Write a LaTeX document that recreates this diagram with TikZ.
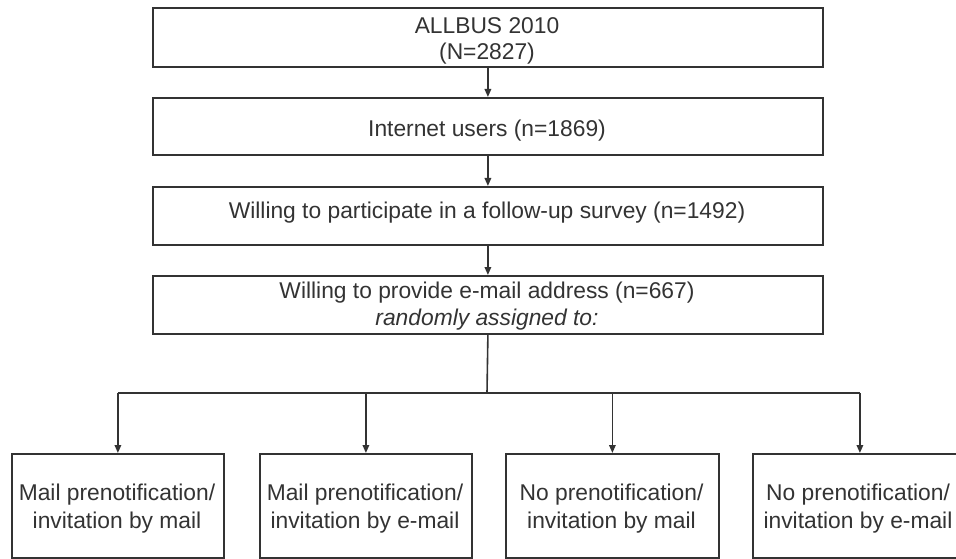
\documentclass[tikz,border=0pt]{standalone}
\usepackage{fontspec}
\setmainfont{Liberation Sans}
\usetikzlibrary{arrows.meta}
\definecolor{ink}{HTML}{333333}
\begin{document}
\begin{tikzpicture}[x=1pt,y=-1pt,
  box/.style={draw=ink, line width=1.8pt, inner sep=0pt, anchor=north west},
  lbl/.style={anchor=base, inner sep=0pt, text=ink, font=\fontsize{22.8}{27}\selectfont},
  conn/.style={draw=ink, line width=1.6pt},
  arr/.style={conn, -{Triangle[length=8pt,width=6.5pt]}}]
\useasboundingbox (0,0) rectangle (956,559);
\clip (0,0) rectangle (956,559);
\fill[white] (0,0) rectangle (956,559);
% top boxes
\node[box, minimum width=670pt, minimum height=59pt] (b1) at (152,7) {};
\node[box, minimum width=670pt, minimum height=57pt] (b2) at (152,97) {};
\node[box, minimum width=670pt, minimum height=58pt] (b3) at (152,186) {};
\node[box, minimum width=670pt, minimum height=58pt] (b4) at (152,275) {};
% bottom boxes
\node[box, minimum width=212pt, minimum height=104pt] (c1) at (11,453) {};
\node[box, minimum width=212pt, minimum height=104pt] (c2) at (259,453) {};
\node[box, minimum width=213pt, minimum height=104pt] (c3) at (505,453) {};
\node[box, minimum width=214pt, minimum height=104pt] (c4) at (752,453) {};
% labels
\node[lbl] (t1a) at (487,34) {ALLBUS 2010};
\node[lbl] (t1b) at (487,60) {(N=2827)};
\node[lbl] (t2) at (487,137) {Internet users (n=1869)};
\node[lbl] (t3) at (487,218) {Willing to participate in a follow-up survey (n=1492)};
\node[lbl] (t4a) at (487,298) {Willing to provide e-mail address (n=667)};
\node[lbl] (t4b) at (487,325) {\itshape randomly assigned to:};
\node[lbl] (u1a) at (117,500) {Mail prenotification/};
\node[lbl] (u1b) at (117,528) {invitation by mail};
\node[lbl] (u2a) at (365,500) {Mail prenotification/};
\node[lbl] (u2b) at (365,528) {invitation by e-mail};
\node[lbl] (u3a) at (611.5,500) {No prenotification/};
\node[lbl] (u3b) at (611.5,528) {invitation by mail};
\node[lbl] (u4a) at (858,500) {No prenotification/};
\node[lbl] (u4b) at (858,528) {invitation by e-mail};
% connectors
\draw[arr] (b1.south) -- (b2.north);
\draw[arr] (b2.south) -- (b3.north);
\draw[arr] (b3.south) -- (b4.north);
\coordinate (j) at (487,393);
\draw[conn] (b4.south) -- (j);
\draw[conn] (c1.north |- j) -- (c4.north |- j);
\draw[arr] (c1.north |- j) -- (c1.north);
\draw[arr] (c2.north |- j) -- (c2.north);
\draw[arr] (c3.north |- j) -- (c3.north);
\draw[arr] (c4.north |- j) -- (c4.north);
\end{tikzpicture}
\end{document}
